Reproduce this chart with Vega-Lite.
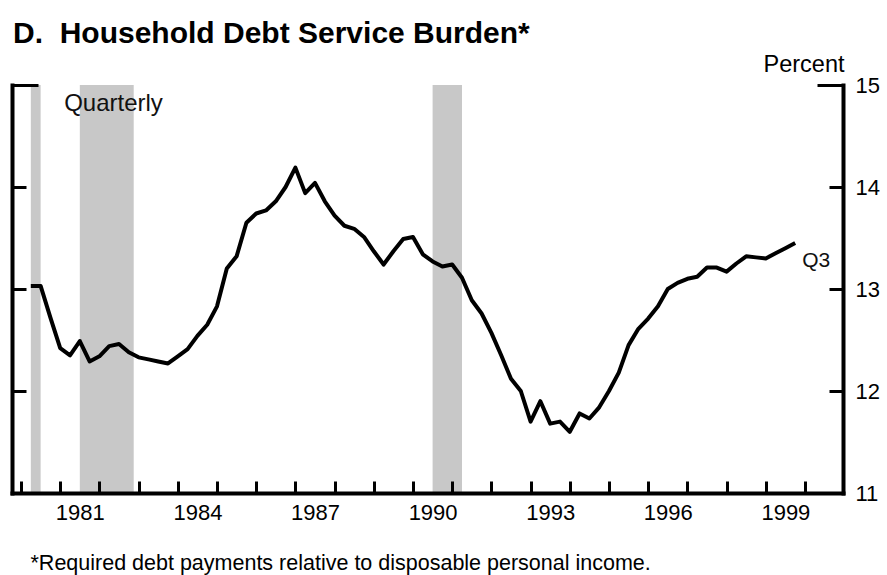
{
  "$schema": "https://vega.github.io/schema/vega-lite/v6.json",
  "width": 831,
  "height": 408,
  "autosize": "none",
  "padding": {"left": 12, "top": 85, "right": 44, "bottom": 82},
  "background": "white",
  "title": {
    "text": "D.\u00a0 Household Debt Service Burden*",
    "anchor": "start",
    "frame": "group",
    "font": "Liberation Sans",
    "fontSize": 30,
    "fontWeight": "bold",
    "color": "#000000",
    "baseline": "alphabetic",
    "offset": 8,
    "dy": 29,
    "dx": 1
  },
  "config": {"view": {"stroke": null}, "font": "Liberation Sans"},
  "datasets": {
    "recessions": [
      {"start": 1980.25, "end": 1980.5},
      {"start": 1981.5, "end": 1982.875},
      {"start": 1990.5, "end": 1991.25}
    ],
    "burden": [
      {"t": 1980.25, "v": 13.03}, {"t": 1980.5, "v": 13.03}, {"t": 1980.75, "v": 12.72}, {"t": 1981.0, "v": 12.42},
      {"t": 1981.25, "v": 12.35}, {"t": 1981.5, "v": 12.49}, {"t": 1981.75, "v": 12.29}, {"t": 1982.0, "v": 12.34},
      {"t": 1982.25, "v": 12.44}, {"t": 1982.5, "v": 12.46}, {"t": 1982.75, "v": 12.38}, {"t": 1983.0, "v": 12.33},
      {"t": 1983.25, "v": 12.31}, {"t": 1983.5, "v": 12.29}, {"t": 1983.75, "v": 12.27}, {"t": 1984.0, "v": 12.34},
      {"t": 1984.25, "v": 12.41}, {"t": 1984.5, "v": 12.54}, {"t": 1984.75, "v": 12.65}, {"t": 1985.0, "v": 12.83},
      {"t": 1985.25, "v": 13.2}, {"t": 1985.5, "v": 13.32}, {"t": 1985.75, "v": 13.65}, {"t": 1986.0, "v": 13.74},
      {"t": 1986.25, "v": 13.77}, {"t": 1986.5, "v": 13.86}, {"t": 1986.75, "v": 14.0}, {"t": 1987.0, "v": 14.19},
      {"t": 1987.25, "v": 13.94}, {"t": 1987.5, "v": 14.04}, {"t": 1987.75, "v": 13.86}, {"t": 1988.0, "v": 13.72},
      {"t": 1988.25, "v": 13.62}, {"t": 1988.5, "v": 13.59}, {"t": 1988.75, "v": 13.51}, {"t": 1989.0, "v": 13.37},
      {"t": 1989.25, "v": 13.24}, {"t": 1989.5, "v": 13.37}, {"t": 1989.75, "v": 13.49}, {"t": 1990.0, "v": 13.51},
      {"t": 1990.25, "v": 13.34}, {"t": 1990.5, "v": 13.27}, {"t": 1990.75, "v": 13.22}, {"t": 1991.0, "v": 13.24},
      {"t": 1991.25, "v": 13.11}, {"t": 1991.5, "v": 12.89}, {"t": 1991.75, "v": 12.76}, {"t": 1992.0, "v": 12.57},
      {"t": 1992.25, "v": 12.35}, {"t": 1992.5, "v": 12.12}, {"t": 1992.75, "v": 12.0}, {"t": 1993.0, "v": 11.7},
      {"t": 1993.25, "v": 11.9}, {"t": 1993.5, "v": 11.68}, {"t": 1993.75, "v": 11.7}, {"t": 1994.0, "v": 11.6},
      {"t": 1994.25, "v": 11.78}, {"t": 1994.5, "v": 11.73}, {"t": 1994.75, "v": 11.84}, {"t": 1995.0, "v": 12.0},
      {"t": 1995.25, "v": 12.18}, {"t": 1995.5, "v": 12.45}, {"t": 1995.75, "v": 12.61}, {"t": 1996.0, "v": 12.71},
      {"t": 1996.25, "v": 12.83}, {"t": 1996.5, "v": 13.0}, {"t": 1996.75, "v": 13.06}, {"t": 1997.0, "v": 13.1},
      {"t": 1997.25, "v": 13.12}, {"t": 1997.5, "v": 13.21}, {"t": 1997.75, "v": 13.21}, {"t": 1998.0, "v": 13.17},
      {"t": 1998.25, "v": 13.25}, {"t": 1998.5, "v": 13.32}, {"t": 1998.75, "v": 13.31}, {"t": 1999.0, "v": 13.3},
      {"t": 1999.25, "v": 13.35}, {"t": 1999.5, "v": 13.4}, {"t": 1999.75, "v": 13.45}
    ]
  },
  "layer": [
    {
      "data": {"name": "recessions"},
      "mark": {"type": "rect", "color": "#c8c8c8"},
      "encoding": {
        "x": {
          "field": "start",
          "type": "quantitative",
          "scale": {"domain": [1979.77, 2000.97], "nice": false, "zero": false},
          "axis": {
            "orient": "bottom",
            "zindex": 1,
            "values": [1980, 1981, 1982, 1983, 1984, 1985, 1986, 1987, 1988, 1989, 1990, 1991, 1992, 1993, 1994, 1995, 1996, 1997, 1998, 1999, 2000],
            "format": "d",
            "labelExpr": "(datum.value - 1981) % 3 == 0 ? datum.label : ''",
            "labelOffset": 19.6,
            "labelFontSize": 22,
            "labelColor": "#000000",
            "labelFlush": false,
            "labelOverlap": false,
            "labelBound": false,
            "labelPadding": 21,
            "tickSize": -12,
            "tickWidth": 3,
            "tickColor": "#000000",
            "domainColor": "#000000",
            "domainWidth": 4,
            "domainCap": "square",
            "grid": false,
            "title": "*Required debt payments relative to disposable personal income.",
            "titleFontSize": 21.5,
            "titleFontWeight": "normal",
            "titleColor": "#000000",
            "titleAnchor": "start",
            "titleAlign": "left",
            "titleBaseline": "alphabetic",
            "titleX": 18,
            "titleY": 76
          }
        },
        "x2": {"field": "end"},
        "y": {
          "datum": 11,
          "type": "quantitative",
          "scale": {"domain": [11, 15], "nice": false, "zero": false},
          "axis": {
            "orient": "left",
            "zindex": 1,
            "values": [11, 12, 13, 14, 15],
            "labels": false,
            "title": null,
            "grid": false,
            "tickSize": {"condition": {"test": "datum.value === 15", "value": -26}, "value": -14},
            "tickWidth": 3,
            "tickColor": "#000000",
            "domainColor": "#000000",
            "domainWidth": 4,
            "domainCap": "square"
          }
        },
        "y2": {"datum": 15}
      }
    },
    {
      "data": {"name": "burden"},
      "mark": {"type": "line", "color": "#000000", "strokeWidth": 4, "strokeJoin": "round"},
      "encoding": {
        "x": {"field": "t", "type": "quantitative"},
        "y": {
          "field": "v",
          "type": "quantitative",
          "axis": {
            "orient": "right",
            "zindex": 1,
            "values": [11, 12, 13, 14, 15],
            "format": "d",
            "labelFontSize": 22,
            "labelColor": "#000000",
            "labelFlush": false,
            "labelOverlap": false,
            "labelBound": false,
            "labelPadding": {"condition": {"test": "datum.value === 15", "value": 38}, "value": 26},
            "grid": false,
            "tickSize": {"condition": {"test": "datum.value === 15", "value": -26}, "value": -14},
            "tickWidth": 3,
            "tickColor": "#000000",
            "domainColor": "#000000",
            "domainWidth": 4,
            "domainCap": "square",
            "title": "Percent",
            "titleAngle": 0,
            "titleAlign": "right",
            "titleBaseline": "alphabetic",
            "titleFontSize": 23.5,
            "titleFontWeight": "normal",
            "titleColor": "#000000",
            "titleX": 1,
            "titleY": -14
          }
        }
      }
    },
    {
      "data": {"values": [{}]},
      "mark": {"type": "text", "text": "Quarterly", "fontSize": 24, "align": "left", "baseline": "alphabetic", "color": "#111111"},
      "encoding": {
        "x": {"datum": 1981.1, "type": "quantitative"},
        "y": {"datum": 14.75, "type": "quantitative", "axis": null}
      }
    },
    {
      "data": {"values": [{}]},
      "mark": {"type": "text", "text": "Q3", "fontSize": 21, "align": "left", "baseline": "alphabetic", "color": "#111111"},
      "encoding": {
        "x": {"datum": 1999.93, "type": "quantitative"},
        "y": {"datum": 13.22, "type": "quantitative", "axis": null}
      }
    }
  ],
  "resolve": {"axis": {"y": "independent"}}
}
